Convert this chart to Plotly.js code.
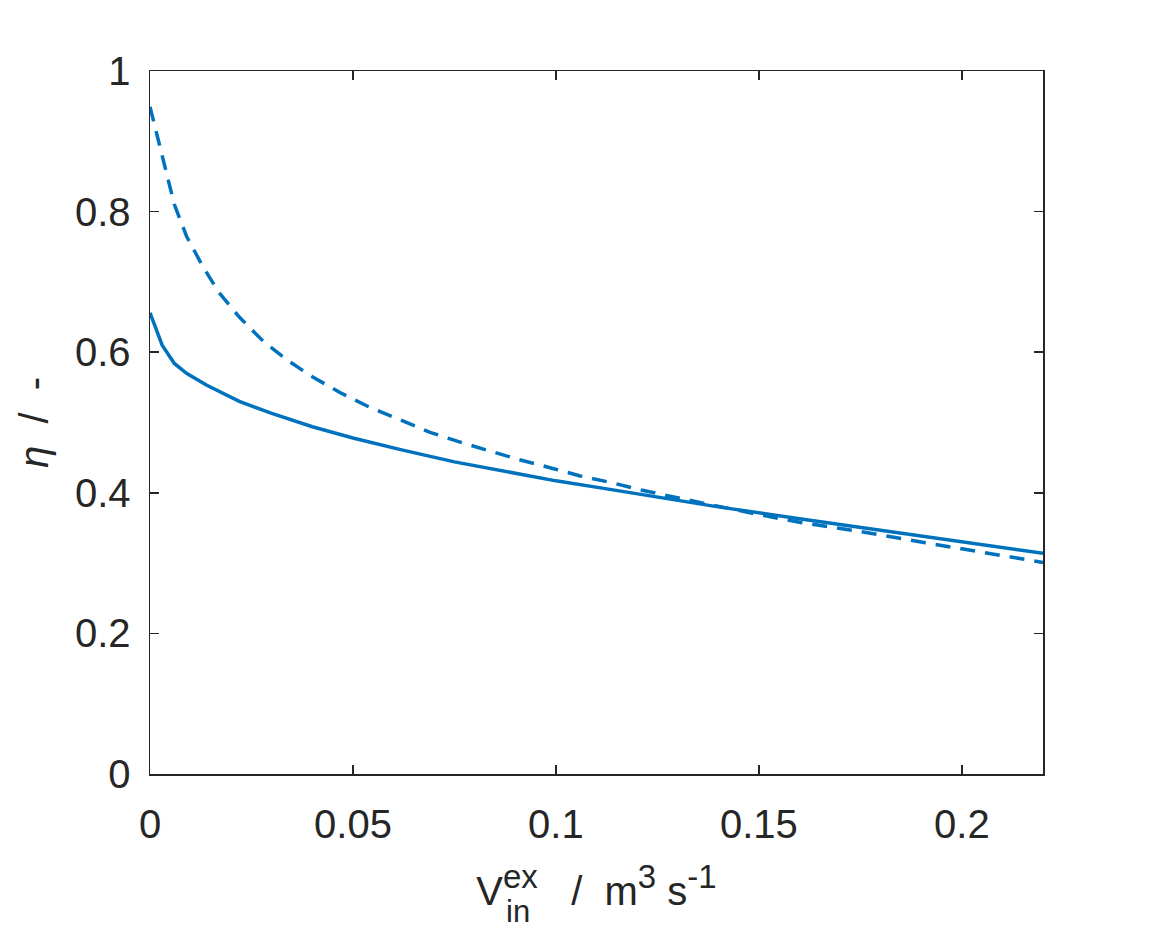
<!DOCTYPE html>
<html>
<head>
<meta charset="utf-8">
<script src="https://cdn.plot.ly/plotly-3.0.1.min.js"></script>
<style>html,body{margin:0;padding:0;background:#fff;}#chart{width:1152px;height:930px;}</style>
</head>
<body>
<div id="chart"></div>
<script>
// Solid curve
const solidX = [0, 0.003, 0.006, 0.009, 0.014, 0.022, 0.030, 0.040, 0.050, 0.062, 0.075, 0.086, 0.100, 0.111, 0.125, 0.140, 0.160, 0.177, 0.200, 0.220];
const solidY = [0.656, 0.610, 0.584, 0.570, 0.553, 0.530, 0.513, 0.494, 0.478, 0.461, 0.444, 0.432, 0.417, 0.407, 0.394, 0.380, 0.363, 0.349, 0.330, 0.314];
// Dashed curve
const dashX = [0, 0.002, 0.004, 0.006, 0.009, 0.013, 0.017, 0.022, 0.028, 0.034, 0.040, 0.047, 0.054, 0.062, 0.069, 0.077, 0.084, 0.091, 0.099, 0.106, 0.114, 0.121, 0.129, 0.137, 0.150, 0.160, 0.176, 0.191, 0.205, 0.220];
const dashY = [0.949, 0.902, 0.852, 0.810, 0.765, 0.722, 0.685, 0.650, 0.615, 0.588, 0.565, 0.542, 0.522, 0.503, 0.486, 0.471, 0.459, 0.447, 0.435, 0.424, 0.414, 0.404, 0.394, 0.384, 0.369, 0.358, 0.344, 0.329, 0.316, 0.301];
// Ticks
const xTickVals = [0, 0.05, 0.1, 0.15, 0.2];
const xTickText = ["0", "0.05", "0.1", "0.15", "0.2"];
const yTickVals = [0, 0.2, 0.4, 0.6, 0.8, 1];
const yTickText = ["0", "0.2", "0.4", "0.6", "0.8", "1"];

const lineColor = '#0072BD';
const axisColor = '#262626';
const fontFam = '"Liberation Sans", Arial, Helvetica, sans-serif';

const traces = [
  {x: solidX, y: solidY, type: 'scatter', mode: 'lines', line: {color: lineColor, width: 3.5}, hoverinfo: 'none'},
  {x: dashX, y: dashY, type: 'scatter', mode: 'lines', line: {color: lineColor, width: 3.5, dash: '15px,10px'}, hoverinfo: 'none'}
];

const axisCommon = {
  showline: true, mirror: 'ticks', linecolor: axisColor, linewidth: 1.5,
  ticks: 'inside', ticklen: 9, tickwidth: 1.5, tickcolor: axisColor,
  showgrid: false, zeroline: false,
  tickfont: {family: fontFam, size: 40, color: axisColor}
};

const nb = '\u00a0';
const sup = t => '<sup><span style="font-size:33px">' + t + '</span></sup>';
const layout = {
  width: 1152, height: 930,
  margin: {l: 150, r: 109, t: 71, b: 156},
  paper_bgcolor: '#fff', plot_bgcolor: '#fff',
  showlegend: false,
  xaxis: Object.assign({}, axisCommon, {
    range: [0, 0.22], tickmode: 'array', tickvals: xTickVals, ticktext: xTickText,
    ticklabelstandoff: 14,
    title: {text: 'V' + sup('ex') + nb + nb + nb + '/' + nb + nb + 'm' + sup('3') + ' s' + sup('-1'), font: {family: fontFam, size: 40, color: axisColor}, standoff: 32}
  }),
  yaxis: Object.assign({}, axisCommon, {
    range: [0, 1], tickmode: 'array', tickvals: yTickVals, ticktext: yTickText,
    ticklabelstandoff: 10,
    title: {text: '<i>η</i>' + nb + nb + '/' + nb + nb + '-', font: {family: fontFam, size: 40, color: axisColor}, standoff: 14}
  }),
  annotations: [
    {xref: 'paper', yref: 'paper', x: 0.398, y: -0.196, xanchor: 'left', yanchor: 'middle', showarrow: false,
     borderpad: 0, text: 'in', font: {family: fontFam, size: 31, color: axisColor}}
  ]
};

Plotly.newPlot('chart', traces, layout, {displayModeBar: false, staticPlot: true});
</script>
</body>
</html>
